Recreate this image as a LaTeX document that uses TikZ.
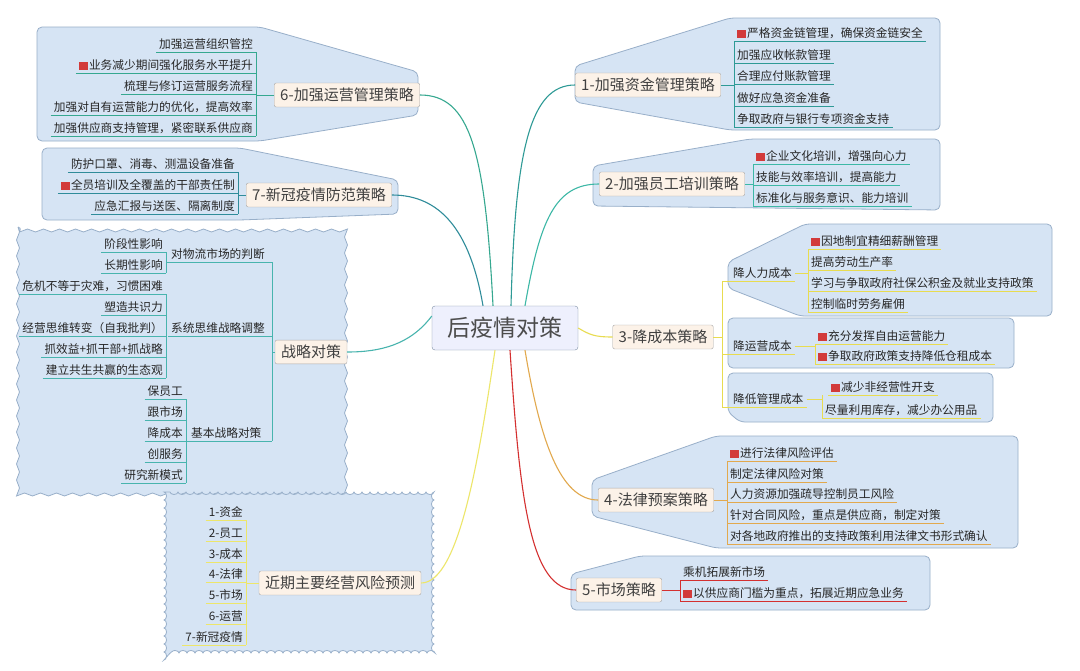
\documentclass[tikz,border=0pt]{standalone}
\usepackage{fontspec}
\setmainfont{Noto Sans CJK SC}
\usetikzlibrary{decorations.pathmorphing}
\definecolor{bfill}{HTML}{D6E4F4}
\definecolor{bdraw}{HTML}{98AFC9}
\definecolor{tfill}{HTML}{FCF2E8}
\definecolor{tdraw}{HTML}{A8A8A8}
\definecolor{icored}{HTML}{D23A3A}
\definecolor{ca}{HTML}{2E9A96}
\definecolor{cb}{HTML}{3DB8A6}
\definecolor{cc}{HTML}{E8DC50}
\definecolor{cd}{HTML}{E2A94E}
\definecolor{ce}{HTML}{D43030}
\definecolor{cf}{HTML}{36A890}
\definecolor{cg}{HTML}{2F8C9A}
\definecolor{ch}{HTML}{48B4AE}
\definecolor{ci}{HTML}{EDE66A}
\newcommand\ico{{\color{icored}\rule[-0.5pt]{8.5pt}{8.5pt}}\hspace{1.5pt}}
\newcommand\LeafL[5]{\node[leaf,anchor=south west] (#1) at (#2,#3) {#5}; \draw[#4] (#1.south west) -- (#1.south east);}
\newcommand\LeafR[5]{\node[leaf,anchor=south east] (#1) at (#2,#3) {#5}; \draw[#4] (#1.south west) -- (#1.south east);}
\begin{document}
\begin{tikzpicture}[x=1pt,y=-1pt,
  leaf/.style={inner xsep=3pt,inner ysep=2pt,font=\fontsize{11.7}{13}\selectfont,text=black!85},
  topic/.style={draw=tdraw,fill=tfill,rounded corners=2pt,inner xsep=6pt,inner ysep=5pt,font=\fontsize{15}{17}\selectfont,text=black!75},
  balloon/.style={draw=bdraw,fill=bfill,rounded corners=5pt,line width=0.8pt},
  conn/.style={line width=1.1pt},
  ln/.style={line width=0.8pt}]
\useasboundingbox (0,0) rectangle (1080,670);
\fill[white] (0,0) rectangle (1080,670);
% balloons
\draw[balloon] (730,18)--(940,18)--(940,130)--(730,130)--(575,102)--(575,66)--cycle;
\draw[balloon] (750,139)--(940,139)--(940,210)--(593,206)--(593,166)--cycle;
\draw[balloon] (805,224)--(1052,224)--(1052,316)--(800,316)--(728,288)--(728,262)--cycle;
\draw[balloon] (728,318)--(1014,318)--(1014,368)--(728,368)--cycle;
\draw[balloon] (728,373)--(993,373)--(993,422)--(740,422)--(728,412)--cycle;
\draw[balloon] (716,436)--(1018,436)--(1018,548)--(716,548)--(592,516)--(592,480)--cycle;
\draw[balloon] (640,556)--(930,556)--(930,610)--(571,610)--(571,574)--cycle;
\draw[balloon] (37,27)--(260,27)--(418,72)--(418,115)--(260,141)--(37,141)--cycle;
\draw[balloon] (42,148)--(240,148)--(398,180)--(398,214)--(240,220)--(42,220)--cycle;
\draw[draw=bdraw,fill=bfill,line width=0.8pt,decorate,decoration={snake,segment length=16pt,amplitude=1.5pt}] (18,227) rectangle (352,490);
\draw[draw=bdraw,fill=bfill,line width=0.8pt,decorate,decoration={bumps,segment length=16pt,amplitude=2.5pt}] (164,492) rectangle (434,653);
% central and topics
\node[draw=bdraw!80!black,fill=bfill!80!blue!20,rounded corners=3pt,minimum width=146pt,minimum height=44pt,font=\fontsize{23}{25}\selectfont,text=black!70] (M) at (505,328) {后疫情对策};
\node[topic] (T1) at (648,85) {1-加强资金管理策略};
\node[topic] (T2) at (672,184) {2-加强员工培训策略};
\node[topic] (T3) at (663,337) {3-降成本策略};
\node[topic] (T4) at (656,500) {4-法律预案策略};
\node[topic] (T5) at (619,590) {5-市场策略};
\node[topic] (T6) at (347,95) {6-加强运营管理策略};
\node[topic] (T7) at (319,195) {7-新冠疫情防范策略};
\node[topic] (T8) at (311,352) {战略对策};
\node[topic] (T9) at (340,583) {近期主要经营风险预测};
% main curves
\draw[conn,ca] ([xshift=6pt]M.north) .. controls (515,150) and (530,85) .. (T1.west);
\draw[conn,cb] ([xshift=20pt]M.north) .. controls (540,220) and (555,184) .. (T2.west);
\draw[conn,cc] (M.east) .. controls (590,335) and (595,337) .. (T3.west);
\draw[conn,cd] ([xshift=20pt]M.south) .. controls (540,440) and (560,500) .. (T4.west);
\draw[conn,ce] ([xshift=5pt]M.south) .. controls (520,500) and (530,590) .. (T5.west);
\draw[conn,cf] ([xshift=-12pt]M.north) .. controls (485,150) and (470,95) .. (T6.east);
\draw[conn,cg] ([xshift=-22pt]M.north) .. controls (470,230) and (440,195) .. (T7.east);
\draw[conn,ch] ([yshift=12pt]M.west) .. controls (410,345) and (380,352) .. (T8.east);
\draw[conn,ci] ([xshift=-10pt]M.south) .. controls (480,450) and (460,583) .. (T9.east);
% group 1
\LeafL{a1}{734}{41}{ca}{\ico 严格资金链管理，确保资金链安全}
\LeafL{a2}{734}{63}{ca}{加强应收帐款管理}
\LeafL{a3}{734}{84}{ca}{合理应付账款管理}
\LeafL{a4}{734}{106}{ca}{做好应急资金准备}
\LeafL{a5}{734}{127}{ca}{争取政府与银行专项资金支持}
\draw[ln,ca] (a1.south west)--(a5.south west) (T1.east)--(T1.east -| a1.south west);
% group 2
\LeafL{b1}{753}{164}{cb}{\ico 企业文化培训，增强向心力}
\LeafL{b2}{753}{185}{cb}{技能与效率培训，提高能力}
\LeafL{b3}{753}{206}{cb}{标准化与服务意识、能力培训}
\draw[ln,cb] (b1.south west)--(b3.south west) (T2.east)--(T2.east -| b1.south west);
% group 3
\LeafL{s1}{730}{281}{cc}{降人力成本}
\LeafL{s2}{730}{354}{cc}{降运营成本}
\LeafL{s3}{730}{407}{cc}{降低管理成本}
\draw[ln,cc] (722,281)--(722,407) (T3.east)--(722,337) (722,281)--(s1.south west) (722,354)--(s2.south west) (722,407)--(s3.south west);
\LeafL{c1}{808}{249}{cc}{\ico 因地制宜精细薪酬管理}
\LeafL{c2}{808}{270}{cc}{提高劳动生产率}
\LeafL{c3}{808}{291}{cc}{学习与争取政府社保公积金及就业支持政策}
\LeafL{c4}{808}{312}{cc}{控制临时劳务雇佣}
\draw[ln,cc] (c1.south west)--(c4.south west) (s1.east)--(s1.east -| c1.south west);
\LeafL{c5}{815}{344}{cc}{\ico 充分发挥自由运营能力}
\LeafL{c6}{815}{364}{cc}{\ico 争取政府政策支持降低仓租成本}
\draw[ln,cc] (c5.south west)--(c6.south west) (s2.east)--(s2.east -| c5.south west);
\LeafL{c7}{828}{395}{cc}{\ico 减少非经营性开支}
\LeafL{c8}{822}{418}{cc}{尽量利用库存，减少办公用品}
\draw[ln,cc] (c7.south west -| c8.south west)--(c8.south west) (s3.east)--(s3.east -| c8.south west);
% group 4
\LeafL{d1}{727}{461}{cd}{\ico 进行法律风险评估}
\LeafL{d2}{727}{482}{cd}{制定法律风险对策}
\LeafL{d3}{727}{502}{cd}{人力资源加强疏导控制员工风险}
\LeafL{d4}{727}{523}{cd}{针对合同风险，重点是供应商，制定对策}
\LeafL{d5}{727}{544}{cd}{对各地政府推出的支持政策利用法律文书形式确认}
\draw[ln,cd] (d1.south west)--(d5.south west) (T4.east)--(T4.east -| d1.south west);
% group 5
\LeafL{e1}{680}{580}{ce}{乘机拓展新市场}
\LeafL{e2}{680}{601}{ce}{\ico 以供应商门槛为重点，拓展近期应急业务}
\draw[ln,ce] (e1.south west)--(e2.south west) (T5.east)--(T5.east -| e2.south west);
% group 6
\LeafR{f1}{256}{52}{cf}{加强运营组织管控}
\LeafR{f2}{256}{73}{cf}{\ico 业务减少期间强化服务水平提升}
\LeafR{f3}{256}{94}{cf}{梳理与修订运营服务流程}
\LeafR{f4}{256}{115}{cf}{加强对自有运营能力的优化，提高效率}
\LeafR{f5}{256}{136}{cf}{加强供应商支持管理，紧密联系供应商}
\draw[ln,cf] (f1.south east)--(f5.south east) (T6.west)--(T6.west -| f1.south east);
% group 7
\LeafR{g1}{238}{172}{cg}{防护口罩、消毒、测温设备准备}
\LeafR{g2}{238}{193}{cg}{\ico 全员培训及全覆盖的干部责任制}
\LeafR{g3}{238}{214}{cg}{应急汇报与送医、隔离制度}
\draw[ln,cg] (g1.south east)--(g3.south east) (T7.west)--(T7.west -| g1.south east);
% strategy
\LeafL{h1}{168}{262}{ch}{对物流市场的判断}
\LeafL{h2}{168}{336}{ch}{系统思维战略调整}
\LeafL{h3}{188}{441}{ch}{基本战略对策}
\draw[ln,ch] (272,262)--(272,441) (T8.west)--(272,352) (h1.south east)--(272,262) (h2.south east)--(272,336) (h3.south east)--(272,441);
\LeafR{i1}{166}{252}{ch}{阶段性影响}
\LeafR{i2}{166}{273}{ch}{长期性影响}
\draw[ln,ch] (i1.south east)--(i2.south east) (h1.south west)--(166,262);
\LeafR{j1}{166}{294}{ch}{危机不等于灾难，习惯困难}
\LeafR{j2}{166}{315}{ch}{塑造共识力}
\LeafR{j3}{166}{336}{ch}{经营思维转变（自我批判）}
\LeafR{j4}{166}{357}{ch}{抓效益+抓干部+抓战略}
\LeafR{j5}{166}{378}{ch}{建立共生共赢的生态观}
\draw[ln,ch] (j1.south east)--(j5.south east) (j1.south west)--(28,294) (j3.south west)--(22,336);
\LeafR{k1}{186}{399}{ch}{保员工}
\LeafR{k2}{186}{420}{ch}{跟市场}
\LeafR{k3}{186}{441}{ch}{降成本}
\LeafR{k4}{186}{462}{ch}{创服务}
\LeafR{k5}{186}{483}{ch}{研究新模式}
\draw[ln,ch] (k1.south east)--(k5.south east) (h3.south west)--(k3.south east);
% forecast
\LeafR{l1}{246}{520}{ci}{1-资金}
\LeafR{l2}{246}{541}{ci}{2-员工}
\LeafR{l3}{246}{562}{ci}{3-成本}
\LeafR{l4}{246}{582}{ci}{4-法律}
\LeafR{l5}{246}{603}{ci}{5-市场}
\LeafR{l6}{246}{624}{ci}{6-运营}
\LeafR{l7}{246}{645}{ci}{7-新冠疫情}
\draw[ln,ci] (l1.south east)--(l7.south east) (T9.west)--(T9.west -| l1.south east);
\end{tikzpicture}
\end{document}
